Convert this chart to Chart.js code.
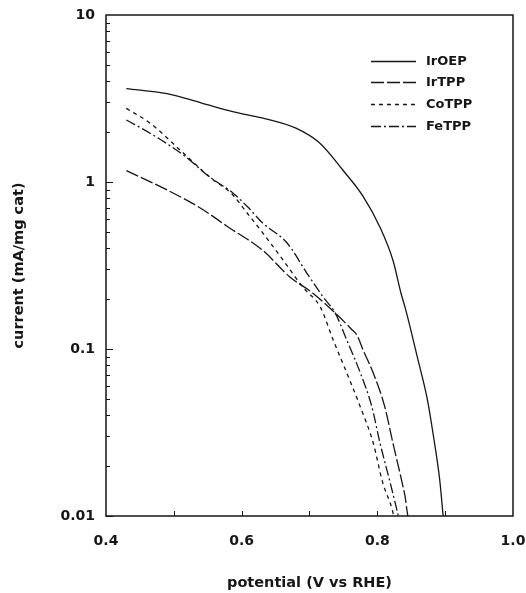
<!DOCTYPE html>
<html>
<head>
<meta charset="utf-8">
<script src="https://cdn.jsdelivr.net/npm/chart.js@4.4.1/dist/chart.umd.min.js"></script>
<style>
  html, body { margin: 0; padding: 0; background: #fff; }
  #c { display: block; }
</style>
</head>
<body>
<canvas id="c" width="526" height="593"></canvas>
<script>
// ---- data ----
const seriesNames = ["IrOEP", "IrTPP", "CoTPP", "FeTPP"];

const irOEP_V = [0.43, 0.49, 0.54, 0.59, 0.63, 0.68, 0.715, 0.749, 0.779, 0.8035, 0.823, 0.835, 0.842, 0.86, 0.873, 0.882, 0.892, 0.897];
const irOEP_I = [3.62, 3.38, 2.98, 2.62, 2.42, 2.10, 1.71, 1.18, 0.82, 0.54, 0.34, 0.215, 0.171, 0.086, 0.0516, 0.0314, 0.0164, 0.01];

const irTPP_V = [0.43, 0.49, 0.539, 0.58, 0.631, 0.671, 0.705, 0.738, 0.763, 0.770, 0.779, 0.794, 0.811, 0.823, 0.838, 0.841, 0.844, 0.845];
const irTPP_I = [1.17, 0.896, 0.699, 0.538, 0.39, 0.27, 0.216, 0.164, 0.13, 0.121, 0.0986, 0.0718, 0.045, 0.0273, 0.0149, 0.013, 0.0106, 0.01];

const coTPP_V = [0.43, 0.465, 0.514, 0.553, 0.587, 0.608, 0.631, 0.661, 0.690, 0.716, 0.735, 0.755, 0.775, 0.794, 0.808, 0.822, 0.824];
const coTPP_I = [2.76, 2.25, 1.49, 1.07, 0.836, 0.652, 0.496, 0.341, 0.235, 0.178, 0.113, 0.0718, 0.045, 0.0273, 0.0158, 0.0109, 0.01];

const feTPP_V = [0.43, 0.465, 0.514, 0.553, 0.587, 0.609, 0.631, 0.667, 0.696, 0.72, 0.738, 0.755, 0.775, 0.792, 0.804, 0.819, 0.831];
const feTPP_I = [2.35, 1.96, 1.45, 1.07, 0.86, 0.708, 0.568, 0.431, 0.285, 0.205, 0.164, 0.113, 0.0718, 0.045, 0.0273, 0.0158, 0.01];

const xTickLabels = [0.4, 0.6, 0.8, 1.0];
const xMinorTicks = [0.5, 0.6, 0.7, 0.8, 0.9];
const yTickLabels = [0.01, 0.1, 1, 10];

const xTitle = "potential (V vs RHE)";
const yTitle = "current (mA/mg cat)";

// ---- styling ----
const INK = '#161616';
const FONT = '"DejaVu Sans", sans-serif';
const dashes = [[], [13, 3], [4, 4], [10, 3, 2, 3]];

function pts(xs, ys) { return xs.map((v, i) => ({ x: v, y: ys[i] })); }

const seriesData = [
  pts(irOEP_V, irOEP_I),
  pts(irTPP_V, irTPP_I),
  pts(coTPP_V, coTPP_I),
  pts(feTPP_V, feTPP_I)
];

const datasets = seriesNames.map((n, i) => ({
  label: n,
  data: seriesData[i],
  borderColor: INK,
  borderWidth: 1.3,
  borderDash: dashes[i],
  pointRadius: 0,
  fill: false,
  cubicInterpolationMode: 'monotone'
}));

const decorations = {
  id: 'decorations',
  afterDatasetsDraw(chart) {
    const { ctx, chartArea: a, scales: { x, y } } = chart;
    ctx.save();
    ctx.strokeStyle = INK;
    ctx.setLineDash([]);
    ctx.lineWidth = 1.5;
    ctx.strokeRect(a.left, a.top, a.right - a.left, a.bottom - a.top);
    // y ticks (inside)
    ctx.lineWidth = 1;
    ctx.beginPath();
    for (let d = 0.01; d < 10; d *= 10) {
      for (let m = 1; m <= 9; m++) {
        const v = d * m;
        const py = Math.round(y.getPixelForValue(v)) + 0.5;
        const len = m === 1 ? 7 : 4;
        ctx.moveTo(a.left, py);
        ctx.lineTo(a.left + len, py);
      }
    }
    // x ticks (inside)
    xMinorTicks.forEach(v => {
      const px = Math.round(x.getPixelForValue(v)) + 0.5;
      ctx.moveTo(px, a.bottom);
      ctx.lineTo(px, a.bottom - 5);
    });
    ctx.stroke();
    // legend
    const lx0 = 371, lx1 = 416, tx = 426, rows = [61, 82, 104, 126];
    ctx.font = 'bold 13px ' + FONT;
    ctx.fillStyle = INK;
    ctx.textBaseline = 'middle';
    ctx.textAlign = 'left';
    chart.data.datasets.forEach((ds, i) => {
      ctx.beginPath();
      ctx.lineWidth = 1.3;
      ctx.setLineDash(ds.borderDash || []);
      ctx.moveTo(lx0, rows[i] + 0.5);
      ctx.lineTo(lx1, rows[i] + 0.5);
      ctx.stroke();
      ctx.fillText(ds.label, tx, rows[i] + 1);
    });
    ctx.restore();
  }
};

new Chart(document.getElementById('c'), {
  type: 'line',
  data: { datasets },
  options: {
    responsive: false,
    animation: false,
    layout: { padding: { left: 11, top: 15, right: 13, bottom: 0 } },
    plugins: { legend: { display: false }, tooltip: { enabled: false } },
    scales: {
      x: {
        type: 'linear',
        min: 0.4, max: 1.0,
        grid: { display: false, drawTicks: false },
        border: { display: false },
        afterBuildTicks: s => { s.ticks = xTickLabels.map(v => ({ value: v })); },
        afterFit: s => { s.height = 77; s.paddingLeft = 0; s.paddingRight = 0; },
        ticks: {
          padding: 17,
          color: INK,
          font: { family: FONT, size: 14, weight: 'bold' },
          callback: v => v.toFixed(1),
          maxRotation: 0, autoSkip: false
        },
        title: {
          display: true, text: xTitle, color: INK,
          font: { family: FONT, size: 14.5, weight: 'bold' },
          padding: { top: 0, bottom: 1 }
        }
      },
      y: {
        type: 'logarithmic',
        min: 0.01, max: 10,
        grid: { display: false, drawTicks: false },
        border: { display: false },
        afterBuildTicks: s => { s.ticks = yTickLabels.map(v => ({ value: v })); },
        afterFit: s => { s.width = 95; s.paddingTop = 0; s.paddingBottom = 0; },
        ticks: {
          padding: 11,
          color: INK,
          font: { family: FONT, size: 14, weight: 'bold' },
          callback: v => String(v),
          autoSkip: false
        },
        title: {
          display: true, text: yTitle, color: INK,
          font: { family: FONT, size: 14.5, weight: 'bold' },
          padding: { top: 0, bottom: 0 }
        }
      }
    }
  },
  plugins: [decorations]
});
</script>
</body>
</html>
